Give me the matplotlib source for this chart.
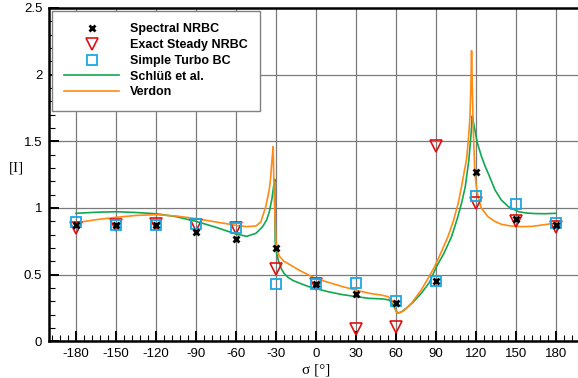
import matplotlib
matplotlib.use("Agg")
import matplotlib.pyplot as plt
from matplotlib.ticker import MultipleLocator

plt.rcParams['font.family'] = ['Liberation Sans', 'DejaVu Sans']
plt.rcParams['axes.unicode_minus'] = False

# Discrete results at sampled inter-blade phase angles
sigma_pts = [-180, -150, -120, -90, -60, -30, 0, 30, 60, 90, 120, 150, 180]
spectral_nrbc = [0.87, 0.87, 0.87, 0.82, 0.77, 0.70, 0.43, 0.355, 0.29, 0.455, 1.27, 0.917, 0.872]
exact_steady_nrbc = [0.85, 0.87, 0.88, 0.875, 0.85, 0.54, 0.43, 0.092, 0.11, 1.465, 1.035, 0.905, 0.86]
simple_turbo_bc = [0.893, 0.87, 0.87, 0.88, 0.85, 0.43, 0.43, 0.44, 0.30, 0.455, 1.09, 1.03, 0.89]

# Continuous reference curves
schluess_sigma = [-180, -165, -150, -135, -120, -105, -90, -75, -60, -52, -45, -40, -37, -35,
                  -33, -31.8, -30.9, -30.6, -29.5, -28, -26, -24, -21, -17, -12, -6, 0, 10, 20,
                  30, 40, 50, 55, 57.5, 60, 61.5, 64, 68, 73, 79, 85, 90.4, 96, 101.7, 106,
                  109.2, 112, 114.7, 116.3, 117.2, 118, 119.2, 121, 124.2, 127, 129.2, 134.3,
                  139, 144.3, 151.9, 158, 164.4, 172, 180]
schluess_vals = [0.96, 0.968, 0.972, 0.966, 0.957, 0.935, 0.90, 0.855, 0.805, 0.787, 0.81,
                 0.86, 0.91, 0.97, 1.07, 1.16, 1.215, 0.75, 0.66, 0.60, 0.545, 0.51, 0.48, 0.455,
                 0.435, 0.412, 0.395, 0.37, 0.35, 0.335, 0.322, 0.318, 0.31, 0.278, 0.23, 0.212,
                 0.22, 0.25, 0.295, 0.36, 0.44, 0.56, 0.66, 0.785, 0.92, 1.035, 1.16, 1.36, 1.55,
                 1.69, 1.65, 1.585, 1.49, 1.385, 1.31, 1.26, 1.135, 1.06, 1.01, 0.972, 0.962,
                 0.958, 0.957, 0.96]

verdon_sigma = [-180, -165, -150, -135, -120, -105, -90, -75, -60, -52, -45, -41.4, -37.6,
                -35.1, -34, -33.4, -32.6, -32.1, -31.4, -30.1, -29, -27.6, -24, -21.3, -18.8,
                -12, -6, 0, 10, 20, 29.6, 40, 48.9, 54, 57.7, 60.2, 61.5, 64, 66.5, 72, 79, 84,
                89, 94, 99, 103, 106.7, 109.2, 111, 113, 114.2, 115.4, 116.2, 116.7, 117.3,
                118, 119.2, 120.3, 121.6, 124, 129, 134, 139.3, 146, 154.4, 162, 169.4, 175, 180]
verdon_vals = [0.89, 0.912, 0.93, 0.944, 0.95, 0.94, 0.92, 0.895, 0.87, 0.86, 0.865, 0.895,
               1.01, 1.135, 1.22, 1.31, 1.40, 1.46, 1.10, 0.76, 0.68, 0.64, 0.60, 0.585, 0.57,
               0.53, 0.50, 0.47, 0.44, 0.41, 0.385, 0.36, 0.347, 0.335, 0.30, 0.222, 0.21,
               0.218, 0.235, 0.29, 0.385, 0.47, 0.56, 0.67, 0.785, 0.90, 1.035, 1.16, 1.26, 1.37,
               1.50, 1.66, 1.90, 2.18, 1.90, 1.585, 1.26, 1.16, 1.085, 1.00, 0.935, 0.90,
               0.877, 0.865, 0.86, 0.862, 0.872, 0.88, 0.89]

x_ticks = [-180, -150, -120, -90, -60, -30, 0, 30, 60, 90, 120, 150, 180]
y_ticks = [0, 0.5, 1, 1.5, 2, 2.5]
y_tick_labels = ['0', '0.5', '1', '1.5', '2', '2.5']

green = '#10a850'
orange = '#ff8a14'
blue = '#18a8e8'
red = '#e01010'

fig = plt.figure(figsize=(5.78, 3.78), dpi=100)
ax = fig.add_axes([49.3 / 578, 36.7 / 378, 533.3 / 578, 333.3 / 378])

ax.plot(schluess_sigma, schluess_vals, color=green, lw=1.2, label='Schlüß et al.', zorder=3)
ax.plot(verdon_sigma, verdon_vals, color=orange, lw=1.2, label='Verdon', zorder=3)
ax.plot(sigma_pts, spectral_nrbc, ls='none', marker='x', ms=5, mew=2, color='black',
        label='Spectral NRBC', zorder=5)
ax.plot(sigma_pts, exact_steady_nrbc, ls='none', marker='v', ms=8, mew=1.2,
        mfc='none', mec=red, label='Exact Steady NRBC', zorder=4)
ax.plot(sigma_pts, simple_turbo_bc, ls='none', marker='s', ms=7, mew=1.3,
        mfc='none', mec=blue, label='Simple Turbo BC', zorder=4)

ax.set_xlim(-200, 200)
ax.set_ylim(0, 2.5)
ax.set_xticks(x_ticks)
ax.set_yticks(y_ticks)
ax.set_yticklabels(y_tick_labels)
ax.xaxis.set_minor_locator(MultipleLocator(6))
ax.yaxis.set_minor_locator(MultipleLocator(0.1))
ax.tick_params(which='major', direction='in', length=7, width=1.4, labelsize=9.5, pad=5,
               top=False, right=False)
ax.tick_params(which='minor', direction='in', length=4, width=0.8, top=False, right=False)
ax.grid(True, which='major', color='#7a7a7a', lw=0.9)
ax.set_axisbelow(True)
for s in ax.spines.values():
    s.set_linewidth(1.8)

ax.set_xlabel('σ [°]', family=['Liberation Serif', 'DejaVu Serif'], fontsize=11, labelpad=2)
ax.set_ylabel('[I]', family=['Liberation Serif', 'DejaVu Serif'], fontsize=11, rotation=0)
ax.yaxis.set_label_coords(-0.062, 0.5 + (341.3 - 174 - 166.65) / 333.3)

handles, labels = ax.get_legend_handles_labels()
order = [2, 3, 4, 0, 1]
leg = ax.legend([handles[i] for i in order], [labels[i] for i in order],
                loc='upper left', bbox_to_anchor=(0.005, 0.991), borderaxespad=0,
                prop={'family': 'Liberation Sans', 'weight': 'bold', 'size': 9},
                handlelength=4.4, handletextpad=0.85, labelspacing=0.3, borderpad=1.0,
                fancybox=False, framealpha=1, edgecolor='#808080')
leg.get_frame().set_linewidth(1.0)

fig.savefig('out.png', dpi=100)
